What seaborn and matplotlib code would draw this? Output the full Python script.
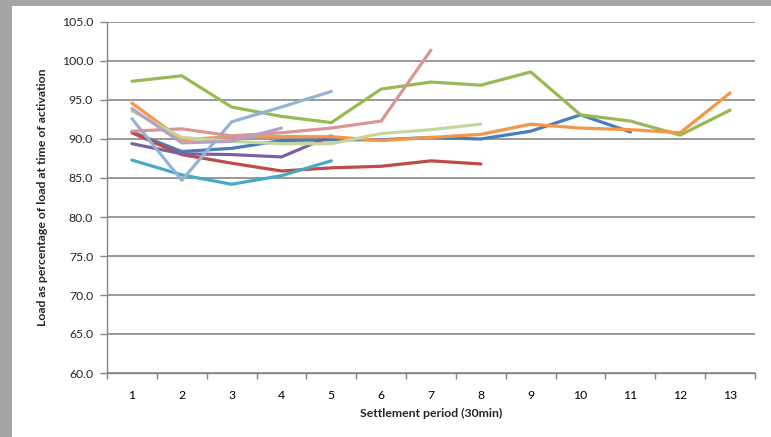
import numpy as np
import pandas as pd
import seaborn as sns
import matplotlib.pyplot as plt
from matplotlib.patches import Rectangle
from matplotlib.ticker import FixedLocator, FormatStrFormatter

# | Data |-------------------------------------------------------------------------------------------------------------|
periods = list(range(1, 14))

s_blue = [90.9, 88.4, 88.8, 89.8, 89.9, 89.9, 90.2, 90.0, 91.0, 93.1, 90.9]
s_red = [90.8, 88.0, 86.9, 85.9, 86.3, 86.5, 87.2, 86.8]
s_green = [97.4, 98.1, 94.1, 92.9, 92.1, 96.4, 97.3, 96.9, 98.6, 93.1, 92.3, 90.5, 93.7]
s_purple = [89.4, 88.1, 88.0, 87.7, 90.4]
s_aqua = [87.3, 85.4, 84.2, 85.3, 87.2]
s_orange = [94.6, 89.9, 90.3, 90.3, 90.3, 89.8, 90.2, 90.6, 91.9, 91.4, 91.2, 90.8, 95.9]
s_lblue = [92.6, 84.7, 92.2, 94.1, 96.1]
s_pink = [91.0, 91.3, 90.4, 90.8, 91.4, 92.3, 101.4]
s_lgreen = [93.6, 90.2, 89.7, 89.4, 89.4, 90.7, 91.2, 91.9]
s_lpurple = [93.9, 89.5, 89.7, 91.4]

series = {
    "S1": s_blue, "S2": s_red, "S3": s_green, "S4": s_purple, "S5": s_aqua,
    "S6": s_orange, "S7": s_lblue, "S8": s_pink, "S9": s_lgreen, "S10": s_lpurple,
}
colors = ["#4A7EBB", "#BE4B48", "#98B954", "#7D60A0", "#46AAC5",
          "#F79646", "#95B3D7", "#D99694", "#C3D69B", "#B3A2C7"]
# |--------------------------------------------------------------------------------------------------------------------|

rows = []
for name, vals in series.items():
    for p, v in zip(periods, vals):
        rows.append({"series": name, "period": p, "load": v})
df = pd.DataFrame(rows)

sns.set_style("white")
plt.rcParams["font.family"] = ["Lato", "DejaVu Sans"]

fig = plt.figure(figsize=(7.71, 4.37), dpi=100)
fig.patch.set_facecolor("#A5A5A5")
# white chart area inside the grey frame
fig.add_artist(Rectangle((12 / 771, 0), 1, 1 - 6 / 437, transform=fig.transFigure,
                         facecolor="white", edgecolor="none", zorder=-5))

ax = fig.add_axes([107 / 771, 1 - 373 / 437, (755 - 107) / 771, (373 - 22) / 437])
ax.set_facecolor("white")

sns.lineplot(data=df, x="period", y="load", hue="series", palette=colors,
             linewidth=2.3, legend=False, ax=ax, estimator=None, sort=False)

ax.set_xlim(0.5, 13.5)
ax.set_ylim(60, 105)
ax.set_xticks(periods)
ax.xaxis.set_minor_locator(FixedLocator(np.arange(0.5, 14, 1)))
ax.set_yticks(np.arange(60, 105.1, 5))
ax.yaxis.set_major_formatter(FormatStrFormatter("%.1f"))
ax.tick_params(axis="x", which="major", length=0, labelsize=8.8, pad=12, colors="black")
ax.tick_params(axis="x", which="minor", length=4, width=1, color="#868686", direction="out", bottom=True)
ax.tick_params(axis="y", length=5, width=1, color="#868686", labelsize=8.8, pad=5, direction="out", left=True)

ax.grid(axis="y", color="#878787", linewidth=1.2)
ax.set_axisbelow(True)
for side in ["top", "right"]:
    ax.spines[side].set_visible(False)
for side in ["left", "bottom"]:
    ax.spines[side].set_color("#868686")
    ax.spines[side].set_linewidth(1)

ax.set_xlabel("Settlement period (30min)", fontsize=8.8, fontweight="bold", labelpad=5)
ax.set_ylabel("Load as percentage of load at time of activation", fontsize=8.8, fontweight="bold", labelpad=10)

fig.savefig("out.png", dpi=100, facecolor=fig.get_facecolor())
